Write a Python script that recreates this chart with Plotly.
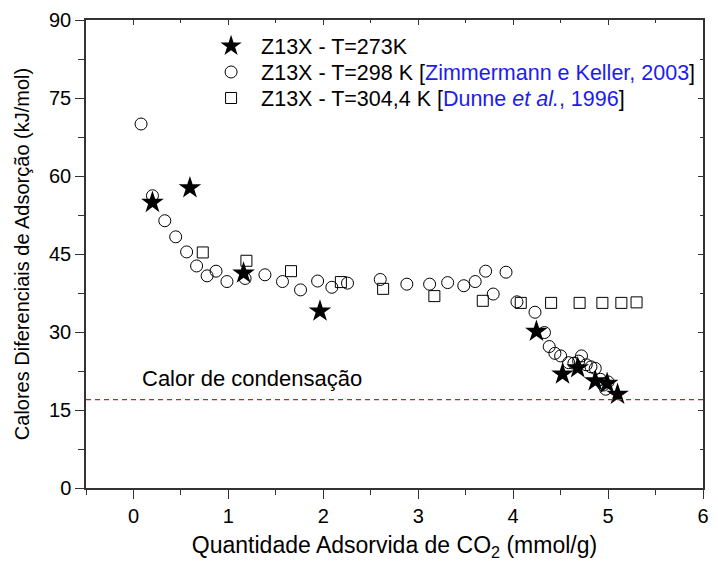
import plotly.graph_objects as go

# Z13X, T = 273 K
x_273 = [0.20, 0.595, 1.16, 1.965, 4.245, 4.52, 4.68, 4.865, 4.99, 5.10]
y_273 = [54.9, 57.7, 41.3, 34.0, 30.1, 21.9, 23.1, 20.6, 20.1, 18.0]

# Z13X, T = 298 K (Zimmermann e Keller, 2003)
x_298 = [0.08, 0.20, 0.33, 0.445, 0.56, 0.665, 0.776, 0.87, 0.985, 1.176,
         1.385, 1.57, 1.76, 1.94, 2.09, 2.255, 2.60, 2.88, 3.12, 3.31,
         3.48, 3.60, 3.71, 3.79, 3.925, 4.04, 4.23, 4.33, 4.38, 4.44,
         4.50, 4.585, 4.64, 4.69, 4.72, 4.77, 4.82, 4.865, 4.92, 4.95,
         4.975, 5.00]
y_298 = [70.0, 56.2, 51.4, 48.3, 45.4, 42.7, 40.8, 41.7, 39.7, 40.3,
         41.0, 39.7, 38.1, 39.8, 38.6, 39.4, 40.1, 39.2, 39.2, 39.5,
         38.9, 39.7, 41.7, 37.3, 41.5, 35.8, 33.8, 29.9, 27.2, 25.9,
         25.4, 24.1, 24.0, 24.4, 25.4, 23.7, 23.3, 23.0, 20.9, 19.8,
         19.0, 20.4]

# Z13X, T = 304,4 K (Dunne et al., 1996)
x_304 = [0.73, 1.19, 1.66, 2.185, 2.63, 3.17, 3.68, 4.08, 4.40, 4.70,
         4.94, 5.14, 5.30]
y_304 = [45.3, 43.7, 41.7, 39.6, 38.3, 36.9, 36.0, 35.6, 35.6, 35.6,
         35.6, 35.6, 35.7]

# heat of condensation of CO2 (kJ/mol)
calor_condensacao = 17.0

x_ticks = [0, 1, 2, 3, 4, 5, 6]
y_ticks = [0, 15, 30, 45, 60, 75, 90]
x_range = [-0.5, 6]
y_range = [0, 90]

FONT = "Liberation Sans, Arial, sans-serif"
BLUE = "#1c1cf0"
AXIS = "#333333"

fig = go.Figure()

fig.add_trace(go.Scatter(
    x=x_273, y=y_273, mode="markers", name="Z13X - T=273K", legend="legend",
    marker=dict(symbol="star", size=17, color="black",
                line=dict(width=0, color="black")),
))
fig.add_trace(go.Scatter(
    x=x_298, y=y_298, mode="markers", legend="legend2",
    name='Z13X - T=298 K [<span style="color:%s">Zimmermann e Keller, 2003</span>]' % BLUE,
    marker=dict(symbol="circle-open", size=12, color="black",
                line=dict(width=1, color="black")),
))
fig.add_trace(go.Scatter(
    x=x_304, y=y_304, mode="markers", legend="legend3",
    name='Z13X - T=304,4 K [<span style="color:%s">Dunne <i>et al.</i>, 1996</span>]' % BLUE,
    marker=dict(symbol="square-open", size=11, color="black",
                line=dict(width=1, color="black")),
))
# empty trace so the mirrored top/right axes get drawn
fig.add_trace(go.Scatter(x=[], y=[], xaxis="x2", yaxis="y2",
                         showlegend=False, hoverinfo="skip"))

fig.add_shape(type="line", xref="paper", x0=0, x1=1, yref="y",
              y0=calor_condensacao, y1=calor_condensacao,
              line=dict(color="#b82828", width=1.2, dash="5px,4px"))

fig.add_annotation(x=1.25, y=calor_condensacao + 1.2, xref="x", yref="y",
                   text="Calor de condensação", showarrow=False,
                   yanchor="bottom", font=dict(size=22, color="black", family=FONT))

axis_common = dict(showgrid=False, zeroline=False, showline=True,
                   linecolor=AXIS, linewidth=1.5, tickcolor=AXIS, tickwidth=1.2)


def legend_box(y):
    return dict(x=0.1865, y=y, xanchor="left", yanchor="middle",
                bgcolor="rgba(0,0,0,0)", borderwidth=0, itemwidth=50,
                font=dict(size=21.5, family=FONT, color="black"))


fig.update_layout(
    width=718, height=565,
    margin=dict(l=86, r=9, t=20, b=77),
    paper_bgcolor="white", plot_bgcolor="white",
    font=dict(family=FONT, size=20, color="black"),
    showlegend=True,
    legend=legend_box(0.9444),
    legend2=legend_box(0.8889),
    legend3=legend_box(0.8333),
    xaxis=dict(range=x_range, tickvals=x_ticks, ticks="outside", ticklen=9,
               minor=dict(dtick=0.5, tick0=0, ticks="outside", ticklen=5,
                          tickcolor=AXIS, tickwidth=1.2),
               title=dict(text="Quantidade Adsorvida de CO<sub>2</sub> (mmol/g)",
                          font=dict(size=23, family=FONT), standoff=11),
               tickfont=dict(size=20, family=FONT), **axis_common),
    yaxis=dict(range=y_range, tickvals=y_ticks, ticks="outside", ticklen=9,
               minor=dict(dtick=7.5, tick0=0, ticks="outside", ticklen=6,
                          tickcolor=AXIS, tickwidth=1.2),
               title=dict(text="Calores Diferenciais de Adsorção (kJ/mol)",
                          font=dict(size=20, family=FONT), standoff=14),
               tickfont=dict(size=20, family=FONT), **axis_common),
    xaxis2=dict(range=x_range, overlaying="x", side="top", anchor="y2",
                tickvals=x_ticks, ticks="inside", ticklen=5, showticklabels=False,
                minor=dict(dtick=0.5, tick0=0, ticks="inside", ticklen=3,
                           tickcolor=AXIS, tickwidth=1.2),
                **axis_common),
    yaxis2=dict(range=y_range, overlaying="y", side="right", anchor="x2",
                tickvals=y_ticks, ticks="inside", ticklen=5, showticklabels=False,
                minor=dict(dtick=7.5, tick0=0, ticks="inside", ticklen=3,
                           tickcolor=AXIS, tickwidth=1.2),
                **axis_common),
)

fig.write_html("out.html")
